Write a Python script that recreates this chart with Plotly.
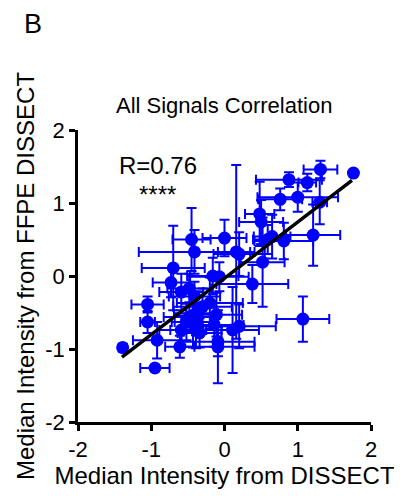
import plotly.graph_objects as go

x_vals = [1.76, 1.31, 1.13, 0.88, 0.76, 1.00, 1.30, 0.48, 0.50, 1.21,
          0.65, 0.59, 0.81, 0.00, 0.16, 0.20, 0.52, 0.38, -0.07, -0.45,
          -0.41, -0.16, -0.48, -0.70, -0.73, -0.59, -1.05, -1.05, -1.39, -0.92,
          -0.95, -0.61, -0.59, -0.39, -0.39, -0.30, -0.20, -0.11, -0.14, -0.09,
          -0.09, 0.11, 0.20, -0.48, -0.43, 1.07, -0.34, -0.41, -0.52]
y_vals = [1.41, 1.46, 1.28, 1.32, 1.05, 1.08, 1.01, 0.85, 0.74, 0.56,
          0.54, 0.50, 0.48, 0.52, 0.33, 0.30, 0.19, -0.11, -0.01, 0.50,
          0.33, 0.00, -0.17, 0.11, -0.09, -0.22, -0.39, -0.63, -0.98, -0.88,
          -1.26, -0.97, -0.74, -0.74, -0.51, -0.42, -0.37, -0.53, -0.67, -0.90,
          -0.97, -0.74, -0.69, -0.56, -0.63, -0.59, -0.78, -0.28, -0.63]
x_err = [0.00, 0.23, 0.12, 0.45, 0.30, 0.55, 0.10, 0.20, 0.30, 0.37,
         0.25, 0.20, 0.40, 0.30, 0.25, 0.35, 0.30, 0.49, 0.40, 0.26,
         0.76, 0.35, 0.30, 0.43, 0.25, 0.30, 0.22, 0.10, 0.05, 0.33,
         0.20, 0.20, 0.30, 0.35, 0.30, 0.40, 0.45, 0.35, 0.40, 0.50,
         0.50, 0.36, 0.50, 0.35, 0.25, 0.36, 0.30, 0.35, 0.20]
y_err = [0.00, 0.12, 0.12, 0.10, 0.15, 0.20, 0.30, 0.44, 0.30, 0.42,
         0.30, 0.20, 0.25, 0.25, 1.19, 0.30, 0.61, 0.26, 0.20, 0.43,
         0.30, 0.25, 0.20, 0.58, 0.20, 0.25, 0.11, 0.15, 0.05, 0.25,
         0.00, 0.15, 0.20, 0.25, 0.30, 0.25, 0.35, 0.30, 0.30, 0.20,
         0.50, 0.59, 0.30, 0.20, 0.35, 0.31, 0.20, 0.20, 0.25]

fit_x = [-1.40, 1.74]
fit_y = [-1.11, 1.31]

tick_vals = [-2, -1, 0, 1, 2]
tick_text = ["-2", "-1", "0", "1", "2"]

FONT = "Liberation Sans, Arial, sans-serif"
BLUE = "#0000FF"

# page body has an 8px default margin; compensate so plot sits at x 78-371, y 130-422
OFF = 8
L, T = 78 - OFF, 130 - OFF
PW, PH = 293, 292
W, H = 402, 496
R = W - L - PW
B = H - T - PH

fig = go.Figure()
fig.add_trace(go.Scatter(
    x=x_vals, y=y_vals, mode="markers",
    marker=dict(color=BLUE, size=13, line=dict(width=0)),
    error_x=dict(type="data", array=x_err, visible=True, color=BLUE, thickness=2, width=5),
    error_y=dict(type="data", array=y_err, visible=True, color=BLUE, thickness=2, width=5),
    showlegend=False,
))
fig.add_trace(go.Scatter(
    x=fit_x, y=fit_y, mode="lines",
    line=dict(color="black", width=3.5), showlegend=False,
))

axis_common = dict(
    range=[-2, 2], tickvals=tick_vals, ticktext=tick_text,
    showgrid=False, zeroline=False, showline=True, linecolor="black", linewidth=2.5,
    ticks="outside", ticklen=6, tickwidth=2.5, tickcolor="black",
    tickfont=dict(family=FONT, size=22, color="black"),
)


def px_to_paper(px, py):
    return (px - OFF - L) / PW, (H - B - (py - OFF)) / PH


tx, ty = px_to_paper(224, 105)
bx, by = px_to_paper(33, 24)

fig.update_layout(
    width=W, height=H,
    margin=dict(l=L, r=R, t=T, b=B),
    paper_bgcolor="white", plot_bgcolor="white",
    font=dict(family=FONT, color="black"),
    xaxis=dict(**axis_common,
               title=dict(text="Median Intensity from DISSECT", font=dict(family=FONT, size=24), standoff=2)),
    yaxis=dict(**axis_common,
               title=dict(text="Median Intensity from FFPE DISSECT", font=dict(family=FONT, size=24), standoff=4)),
    annotations=[
        dict(text="All Signals Correlation", x=tx, y=ty, xref="paper", yref="paper",
             xanchor="center", yanchor="middle", showarrow=False, font=dict(family=FONT, size=22)),
        dict(text="R=0.76", x=-0.91, y=1.51, xref="x", yref="y", showarrow=False,
             xanchor="center", yanchor="middle", font=dict(family=FONT, size=24)),
        dict(text="****", x=-0.91, y=1.12, xref="x", yref="y", showarrow=False,
             xanchor="center", yanchor="middle", font=dict(family=FONT, size=24)),
        dict(text="B", x=bx, y=by, xref="paper", yref="paper",
             xanchor="center", yanchor="middle", showarrow=False, font=dict(family=FONT, size=27)),
    ],
)

fig.write_html("out.html")
